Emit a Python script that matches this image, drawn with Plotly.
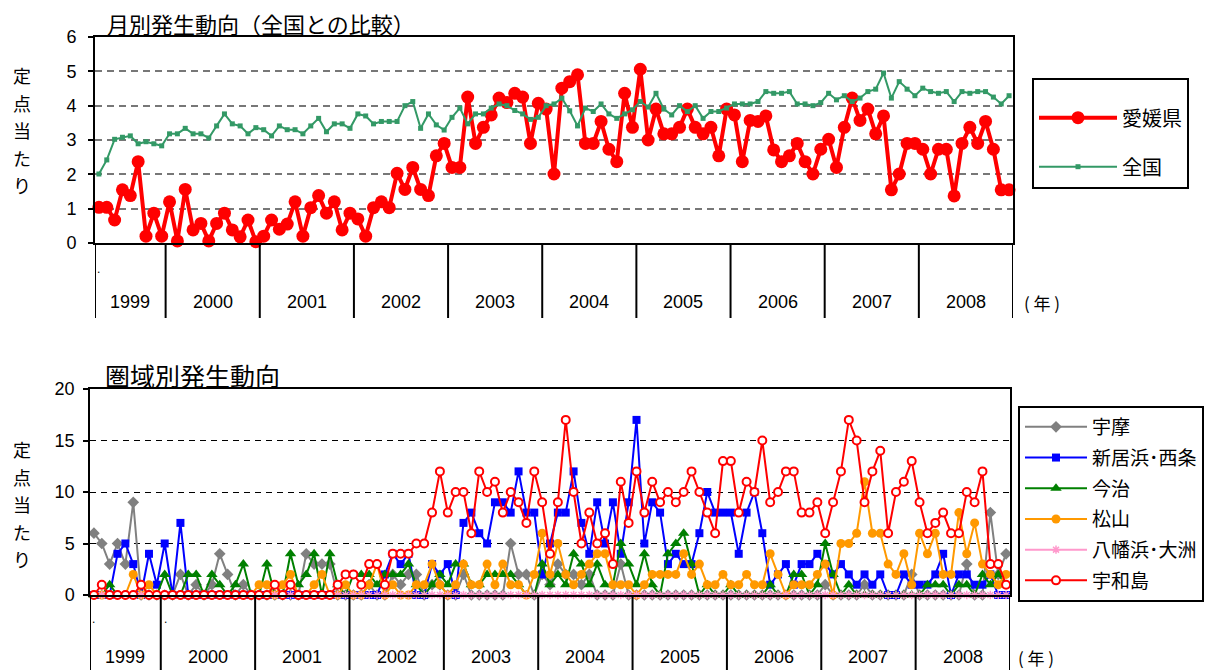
import plotly.graph_objects as go

# page body keeps an 8px margin, so the figure is drawn 8px smaller and
# all positions below are given in window pixels
OFF = 8
W, H = 1213 - OFF, 670 - OFF

# year blocks (1999 starts in April -> 9 months)
years = ['1999', '2000', '2001', '2002', '2003', '2004', '2005', '2006', '2007', '2008']
months_in_year = [9, 12, 12, 12, 12, 12, 12, 12, 12, 12]

# top chart: per-sentinel counts, Ehime vs national
ehime = [
    1.04, 1.04, 0.67, 1.55, 1.38, 2.37, 0.2, 0.87, 0.2,
    1.2, 0.06, 1.56, 0.38, 0.57, 0.06, 0.57, 0.87, 0.38, 0.18, 0.67, 0.04,
    0.2, 0.67, 0.4, 0.55, 1.2, 0.2, 1.03, 1.38, 0.87, 1.2, 0.38, 0.87,
    0.7, 0.2, 1.03, 1.2, 1.03, 2.03, 1.56, 2.2, 1.56, 1.38, 2.54, 2.9,
    2.2, 2.2, 4.25, 2.9, 3.37, 3.73, 4.22, 4.09, 4.36, 4.25, 2.9, 4.07,
    3.9, 2.01, 4.51, 4.7, 4.9, 2.9, 2.9, 3.54, 2.73, 2.37, 4.36, 3.37,
    5.06, 3.0, 3.9, 3.18, 3.18, 3.37, 3.9, 3.37, 3.18, 3.37, 2.54, 3.9,
    3.73, 2.37, 3.57, 3.54, 3.7, 2.71, 2.37, 2.54, 2.9, 2.37, 2.01, 2.73,
    3.02, 2.2, 3.37, 4.22, 3.57, 3.9, 3.18, 3.7, 1.55, 2.01, 2.9, 2.9,
    2.73, 2.01, 2.73, 2.73, 1.37, 2.9, 3.37, 2.9, 3.54, 2.73, 1.55, 1.55,
]
zenkoku = [
    2.01, 2.42, 3.02, 3.08, 3.12, 2.89, 2.95, 2.89, 2.83,
    3.18, 3.18, 3.34, 3.18, 3.18, 3.06, 3.41, 3.76, 3.47, 3.41, 3.18, 3.36,
    3.3, 3.12, 3.41, 3.3, 3.3, 3.18, 3.41, 3.63, 3.24, 3.47, 3.47, 3.34,
    3.76, 3.7, 3.47, 3.54, 3.54, 3.54, 4.0, 4.12, 3.34, 3.76, 3.44, 3.29,
    3.66, 3.93, 3.47, 3.76, 3.76, 3.93, 4.05, 4.0, 3.86, 3.76, 3.6, 3.66,
    4.0, 4.05, 4.22, 3.85, 3.41, 3.93, 3.83, 4.05, 3.76, 3.63, 3.76, 3.88,
    4.12, 3.96, 4.36, 3.9, 3.73, 4.0, 3.83, 4.0, 3.63, 3.83, 3.83, 3.93,
    4.05, 4.05, 4.05, 4.12, 4.41, 4.36, 4.36, 4.41, 4.05, 4.05, 4.0, 4.09,
    4.36, 4.17, 4.29, 4.12, 4.22, 4.41, 4.48, 4.95, 4.22, 4.7, 4.48, 4.29,
    4.51, 4.41, 4.36, 4.41, 4.12, 4.41, 4.36, 4.41, 4.41, 4.25, 4.05, 4.29,
]

# bottom chart: per-sentinel counts by area
uma = [
    6, 5, 3, 5, 3, 9, 0, 0, 0,
    0, 0, 2, 0, 1, 0, 1, 4, 2, 0, 1, 0,
    0, 0, 0, 0, 0, 0, 4, 3, 3, 3, 0, 0,
    0, 0, 1, 0, 0, 2, 1, 2, 2, 0, 1, 1,
    0, 0, 2, 0, 0, 0, 0, 0, 5, 2, 2, 0,
    2, 1, 3, 2, 2, 1, 2, 0, 0, 0, 3, 0,
    0, 0, 0, 0, 0, 0, 0, 0, 0, 0, 0, 0,
    0, 0, 0, 0, 0, 0, 0, 0, 0, 0, 0, 0,
    1, 0, 0, 0, 0, 1, 0, 0, 0, 0, 0, 2,
    0, 0, 0, 0, 0, 0, 3, 0, 0, 8, 2, 4,
]
niihama_saijo = [
    0, 0, 0, 4, 5, 3, 0, 4, 1,
    5, 0, 7, 0, 0, 0, 0, 0, 0, 0, 0, 0,
    0, 0, 0, 0, 0, 0, 0, 0, 0, 0, 0, 0,
    0, 0, 0, 0, 2, 4, 3, 4, 0, 0, 3, 2,
    3, 0, 7, 8, 6, 5, 9, 9, 8, 12, 8, 8,
    2, 5, 8, 8, 12, 7, 4, 9, 5, 9, 4, 9,
    17, 5, 9, 8, 3, 4, 3, 3, 6, 10, 8, 8,
    8, 4, 8, 10, 6, 1, 2, 3, 1, 3, 3, 4,
    3, 2, 3, 2, 1, 2, 1, 2, 0, 0, 2, 1,
    1, 1, 2, 4, 0, 2, 2, 1, 1, 2, 0, 0,
]
imabari = [
    0, 0, 1, 0, 0, 0, 0, 0, 0,
    2, 0, 0, 2, 2, 0, 2, 1, 0, 1, 3, 0,
    0, 3, 0, 0, 4, 1, 2, 4, 0, 4, 1, 0,
    2, 2, 2, 1, 2, 2, 2, 3, 1, 0, 1, 2,
    1, 3, 3, 1, 1, 2, 2, 2, 2, 1, 0, 0,
    3, 1, 2, 1, 4, 3, 1, 3, 1, 1, 5, 3,
    1, 4, 1, 0, 4, 5, 6, 3, 0, 1, 0, 0,
    1, 0, 0, 0, 0, 1, 0, 0, 2, 2, 0, 1,
    5, 2, 0, 1, 0, 0, 0, 0, 0, 0, 0, 0,
    0, 1, 1, 1, 0, 1, 1, 0, 2, 1, 2, 1,
]
matsuyama = [
    0, 0, 0, 0, 0, 2, 0, 1, 0,
    0, 0, 0, 0, 0, 0, 0, 0, 0, 0, 0, 0,
    1, 1, 0, 1, 2, 0, 0, 1, 2, 0, 0, 1,
    0, 0, 1, 3, 0, 1, 0, 0, 1, 1, 3, 1,
    0, 1, 3, 1, 1, 3, 1, 3, 1, 1, 0, 2,
    6, 2, 5, 2, 1, 2, 3, 4, 4, 1, 1, 1,
    0, 1, 2, 2, 2, 2, 4, 2, 3, 1, 1, 2,
    1, 1, 2, 1, 1, 4, 2, 0, 1, 1, 1, 2,
    3, 0, 5, 5, 6, 11, 6, 6, 3, 2, 4, 1,
    6, 4, 6, 2, 2, 8, 4, 7, 3, 2, 1, 2,
]
yawatahama_ozu = [0] * 117
uwajima = [
    0, 1, 0, 0, 0, 0, 1, 0, 0,
    0, 0, 0, 0, 0, 0, 0, 0, 0, 0, 0, 0,
    0, 0, 1, 0, 1, 0, 0, 0, 0, 0, 1, 2,
    2, 1, 3, 3, 1, 4, 4, 4, 5, 5, 8, 12,
    8, 10, 10, 6, 12, 10, 11, 8, 10, 9, 7, 12,
    9, 4, 9, 17, 10, 5, 8, 5, 6, 3, 11, 7,
    12, 8, 11, 9, 10, 9, 10, 12, 10, 8, 6, 13,
    13, 8, 11, 10, 15, 9, 10, 12, 12, 8, 8, 9,
    6, 9, 12, 17, 15, 9, 12, 14, 6, 10, 11, 13,
    9, 6, 7, 8, 6, 6, 10, 9, 12, 3, 3, 1,
]

FONT = "Liberation Sans, Arial, 'Noto Sans CJK JP', sans-serif"
JP = "'Noto Sans CJK JP', sans-serif"


def px(x):
    return (x - OFF) / W


def py(y):
    return 1 - (y - OFF) / H


def note(text, x, y, size, family=JP, anchor='center'):
    return dict(x=px(x), y=py(y), xref='paper', yref='paper', text=text,
                showarrow=False, xanchor=anchor, yanchor='middle',
                font=dict(size=size, family=family))


x = list(range(len(ehime)))

fig = go.Figure()

# --- top chart ---
fig.add_trace(go.Scatter(
    x=x, y=ehime, name='愛媛県', mode='lines+markers',
    line=dict(color='#FF0000', width=4),
    marker=dict(symbol='circle', size=13, color='#FF0000'),
    xaxis='x', yaxis='y', cliponaxis=False, legend='legend', legendgroup='t1',
))
fig.add_trace(go.Scatter(
    x=x, y=zenkoku, name='全国', mode='lines+markers',
    line=dict(color='#339966', width=2),
    marker=dict(symbol='square', size=5, color='#339966'),
    xaxis='x', yaxis='y', cliponaxis=False, legend='legend', legendgroup='t2',
))

# --- bottom chart ---
areas = [
    ('宇摩', uma, '#808080', dict(symbol='diamond', size=9, color='#808080')),
    ('新居浜･西条', niihama_saijo, '#0000FF', dict(symbol='square', size=8, color='#0000FF')),
    ('今治', imabari, '#008000', dict(symbol='triangle-up', size=10, color='#008000')),
    ('松山', matsuyama, '#FF9900', dict(symbol='circle', size=9, color='#FF9900')),
    ('八幡浜･大洲', yawatahama_ozu, '#FF99CC',
     dict(symbol='asterisk', size=7, color='#FF99CC', line=dict(color='#FF99CC', width=1.5))),
    ('宇和島', uwajima, '#FF0000',
     dict(symbol='circle', size=8, color='white', line=dict(color='#FF0000', width=2))),
]
for i, (name, vals, col, mk) in enumerate(areas):
    fig.add_trace(go.Scatter(
        x=x, y=vals, name=name, mode='lines+markers',
        line=dict(color=col, width=2), marker=mk,
        xaxis='x2', yaxis='y2', cliponaxis=False, legend='legend2',
        legendgroup='b%d' % i,
    ))

# year separators and labels under both charts
shapes = []
annotations = []
start = 0
bounds = [-0.5]
for yr, n in zip(years, months_in_year):
    mid = start + (n - 1) / 2
    annotations.append(dict(x=mid, y=py(302), xref='x', yref='paper', text=yr,
                            showarrow=False, yanchor='middle', font=dict(size=18)))
    annotations.append(dict(x=mid, y=py(657), xref='x2', yref='paper', text=yr,
                            showarrow=False, yanchor='middle', font=dict(size=18)))
    start += n
    bounds.append(start - 0.5)
for b in bounds:
    shapes.append(dict(type='line', xref='x', yref='paper', x0=b, x1=b,
                       y0=py(243), y1=py(318), line=dict(color='black', width=2)))
    shapes.append(dict(type='line', xref='x2', yref='paper', x0=b, x1=b,
                       y0=py(595), y1=py(672), line=dict(color='black', width=2)))

# titles
annotations.append(note('月別発生動向（全国との比較）', 105, 23, 22, anchor='left'))
annotations.append(note('圏域別発生動向', 103, 375, 25, anchor='left'))
# vertical axis titles
for top in (75, 449):
    for i, ch in enumerate('定点当たり'):
        annotations.append(note(ch, 22, top + i * 27.5, 18))
# (年)
annotations.append(note('( 年 )', 1042, 302, 17))
annotations.append(note('( 年 )', 1036, 657, 17))
# stray dots in category area
for dx, dy in ((98, 269), (93, 619), (165, 619)):
    annotations.append(note('.', dx, dy, 12, family=FONT))

axis_common = dict(showline=True, linecolor='black', mirror=True, zeroline=False,
                   automargin=False)

fig.update_layout(
    width=W, height=H,
    margin=dict(l=0, r=0, t=0, b=0, autoexpand=False),
    paper_bgcolor='white', plot_bgcolor='white',
    font=dict(family=FONT, color='black', size=18),
    xaxis=dict(domain=[px(95), px(1013)], range=[-0.5, 116.5], showticklabels=False,
               showgrid=False, ticks='', linewidth=2, anchor='y', **axis_common),
    yaxis=dict(domain=[py(243), py(37)], range=[0, 6], dtick=1, ticks='outside',
               ticklen=5, tickwidth=1.5, tickcolor='black', linewidth=2,
               ticklabelstandoff=8,
               showgrid=True, gridcolor='#777777', griddash='7px,5px', gridwidth=1.5,
               tickfont=dict(size=18), anchor='x', **axis_common),
    xaxis2=dict(domain=[px(90), px(1010)], range=[-0.5, 116.5], showticklabels=False,
                showgrid=False, ticks='', linewidth=1.5, anchor='y2', **axis_common),
    yaxis2=dict(domain=[py(595), py(389)], range=[0, 20], dtick=5, ticks='outside',
                ticklen=5, tickwidth=1.5, tickcolor='black', linewidth=1.5,
                ticklabelstandoff=5,
                showgrid=True, gridcolor='black', griddash='6px,5px', gridwidth=1,
                tickfont=dict(size=18), anchor='x2', **axis_common),
    legend=dict(x=px(1032), y=py(78), xanchor='left', yanchor='top',
                bordercolor='black', borderwidth=2, bgcolor='white',
                font=dict(size=20, family=JP), traceorder='grouped',
                tracegroupgap=20, itemwidth=78,
                title=dict(text=' ', font=dict(size=14))),
    legend2=dict(x=px(1018), y=py(406), xanchor='left', yanchor='top',
                 bordercolor='black', borderwidth=2, bgcolor='white',
                 font=dict(size=19, family=JP), traceorder='grouped',
                 tracegroupgap=3, itemwidth=62),
    shapes=shapes,
    annotations=annotations,
    showlegend=True,
)

fig.write_html("out.html")
